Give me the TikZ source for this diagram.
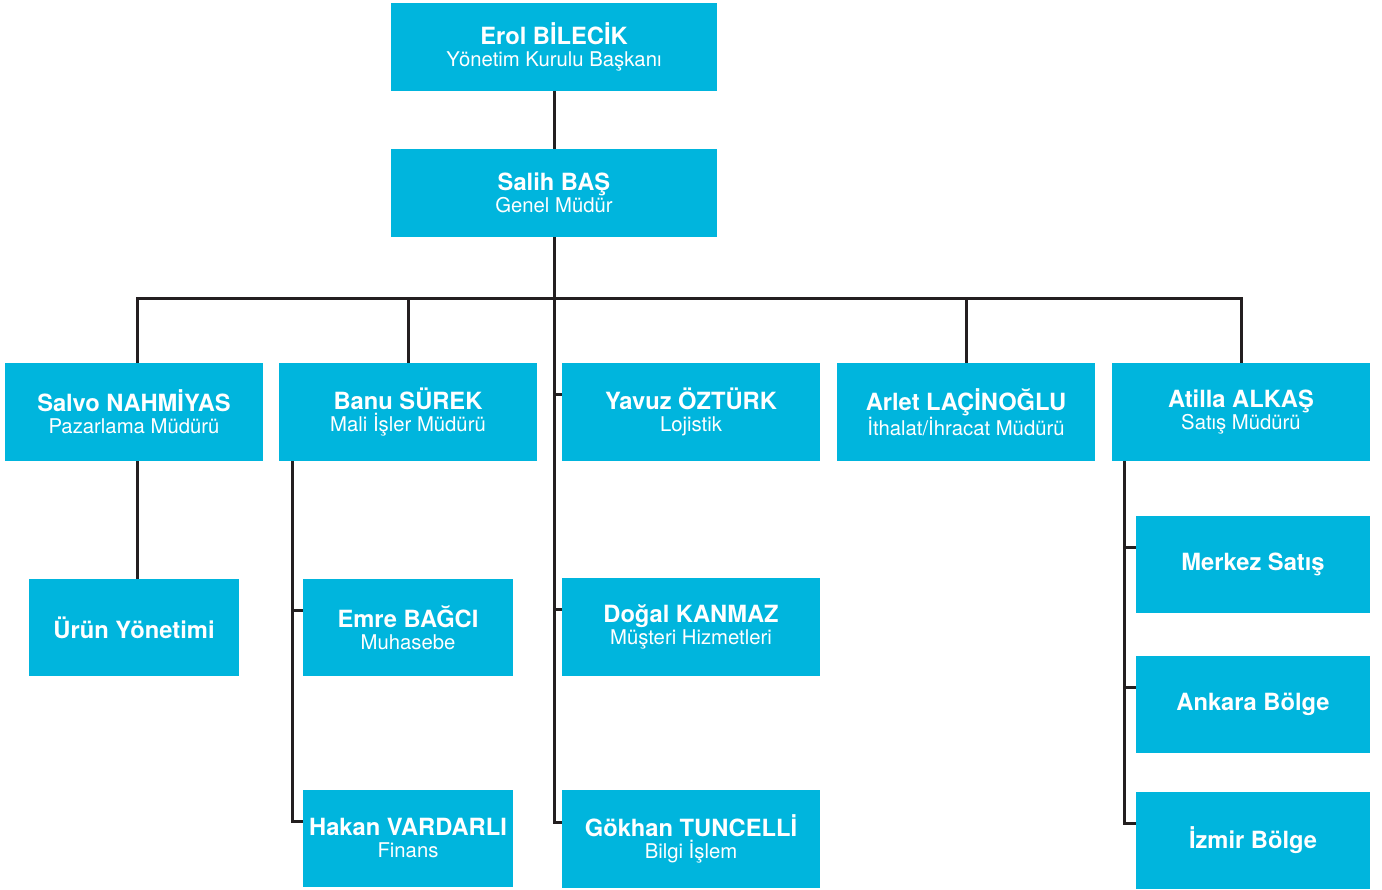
\documentclass[tikz,border=0pt]{standalone}
\usepackage{fontspec}
\setmainfont{TeX Gyre Heros}
\usetikzlibrary{positioning}
\definecolor{kutumavi}{RGB}{0,181,221}
\definecolor{cizgi}{RGB}{35,31,32}
\newcommand{\isim}[1]{{\fontsize{23.7}{22}\selectfont\bfseries #1}}

\begin{document}
\begin{tikzpicture}[
        kutu/.style={fill=kutumavi, text=white, align=center, inner sep=0pt, minimum width=258pt, minimum height=98pt, font=\fontsize{20.3}{22}\selectfont},
        ust/.style={kutu, minimum width=326pt, minimum height=88pt},
        alt/.style={kutu, minimum width=210pt, minimum height=97pt},
        bolge/.style={kutu, minimum width=234pt, minimum height=97pt},
        bag/.style={draw=cizgi, line width=3pt}
    ]
        \useasboundingbox (0,0) rectangle (1382pt,-890pt);

        \node[ust] (erol) at (554pt,-47pt) {\isim{Erol BİLECİK}\\Yönetim Kurulu Başkanı};
        \node[below of=erol, node distance=146pt, ust] (salih) {\isim{Salih BAŞ}\\Genel Müdür};

        \node[kutu] (salvo) at (134pt,-412pt) {\isim{Salvo NAHMİYAS}\\Pazarlama Müdürü};
        \node[right of=salvo, node distance=274pt, kutu] (banu) {\isim{Banu SÜREK}\\Mali İşler Müdürü};
        \node[right of=banu, node distance=283pt, kutu] (yavuz) {\isim{Yavuz ÖZTÜRK}\\Lojistik};
        \node[right of=yavuz, node distance=275pt, kutu] (arlet) {\isim{Arlet LAÇİNOĞLU}\\İthalat/İhracat Müdürü};
        \node[right of=arlet, node distance=275pt, kutu] (atilla) {\isim{Atilla ALKAŞ}\\Satış Müdürü};

        \node[below of=salvo, node distance=215.5pt, alt] (urun) {\isim{Ürün Yönetimi}};
        \node[below of=banu, node distance=215.5pt, alt] (emre) {\isim{Emre BAĞCI}\\Muhasebe};
        \node[below of=emre, node distance=210.5pt, alt] (hakan) {\isim{Hakan VARDARLI}\\Finans};
        \node[below of=yavuz, node distance=214.5pt, kutu] (dogal) {\isim{Doğal KANMAZ}\\Müşteri Hizmetleri};
        \node[below of=dogal, node distance=212.5pt, kutu] (gokhan) {\isim{Gökhan TUNCELLİ}\\Bilgi İşlem};
        \node[bolge] (merkez) at (1253pt,-564pt) {\isim{Merkez Satış}};
        \node[below of=merkez, node distance=140pt, bolge] (ankara) {\isim{Ankara Bölge}};
        \node[below of=ankara, node distance=136pt, bolge] (izmir) {\isim{İzmir Bölge}};

        % baglanti noktalari
        \coordinate (bus) at ([yshift=-61pt]salih.south);
        \foreach \n in {yavuz,dogal,gokhan,emre,hakan,merkez,ankara,izmir}
            \coordinate (\n-b) at ([yshift=17pt]\n.west);
        \coordinate (banu-k) at ([xshift=14pt]banu.south west);
        \coordinate (atilla-k) at ([xshift=13pt]atilla.south west);
        \coordinate (salvo-k) at ([xshift=3pt]salvo.north);

        \draw[bag] (erol.south) -- (salih.north);
        \draw[bag] (salvo-k) |- (bus) -| (atilla.north);
        \draw[bag] (banu.north) -- (banu.north |- bus);
        \draw[bag] (arlet.north) -- (arlet.north |- bus);
        \draw[bag] (salih.south) |- (gokhan-b);
        \foreach \n in {yavuz,dogal}
            \draw[bag] (salih.south |- \n-b) -- (\n-b);
        \draw[bag] ([xshift=3pt]salvo.south) -- ([xshift=3pt]urun.north);
        \draw[bag] (banu-k) |- (hakan-b);
        \draw[bag] (banu-k |- emre-b) -- (emre-b);
        \draw[bag] (atilla-k) |- (izmir-b);
        \foreach \n in {merkez,ankara}
            \draw[bag] (atilla-k |- \n-b) -- (\n-b);
    \end{tikzpicture}
\end{document}
